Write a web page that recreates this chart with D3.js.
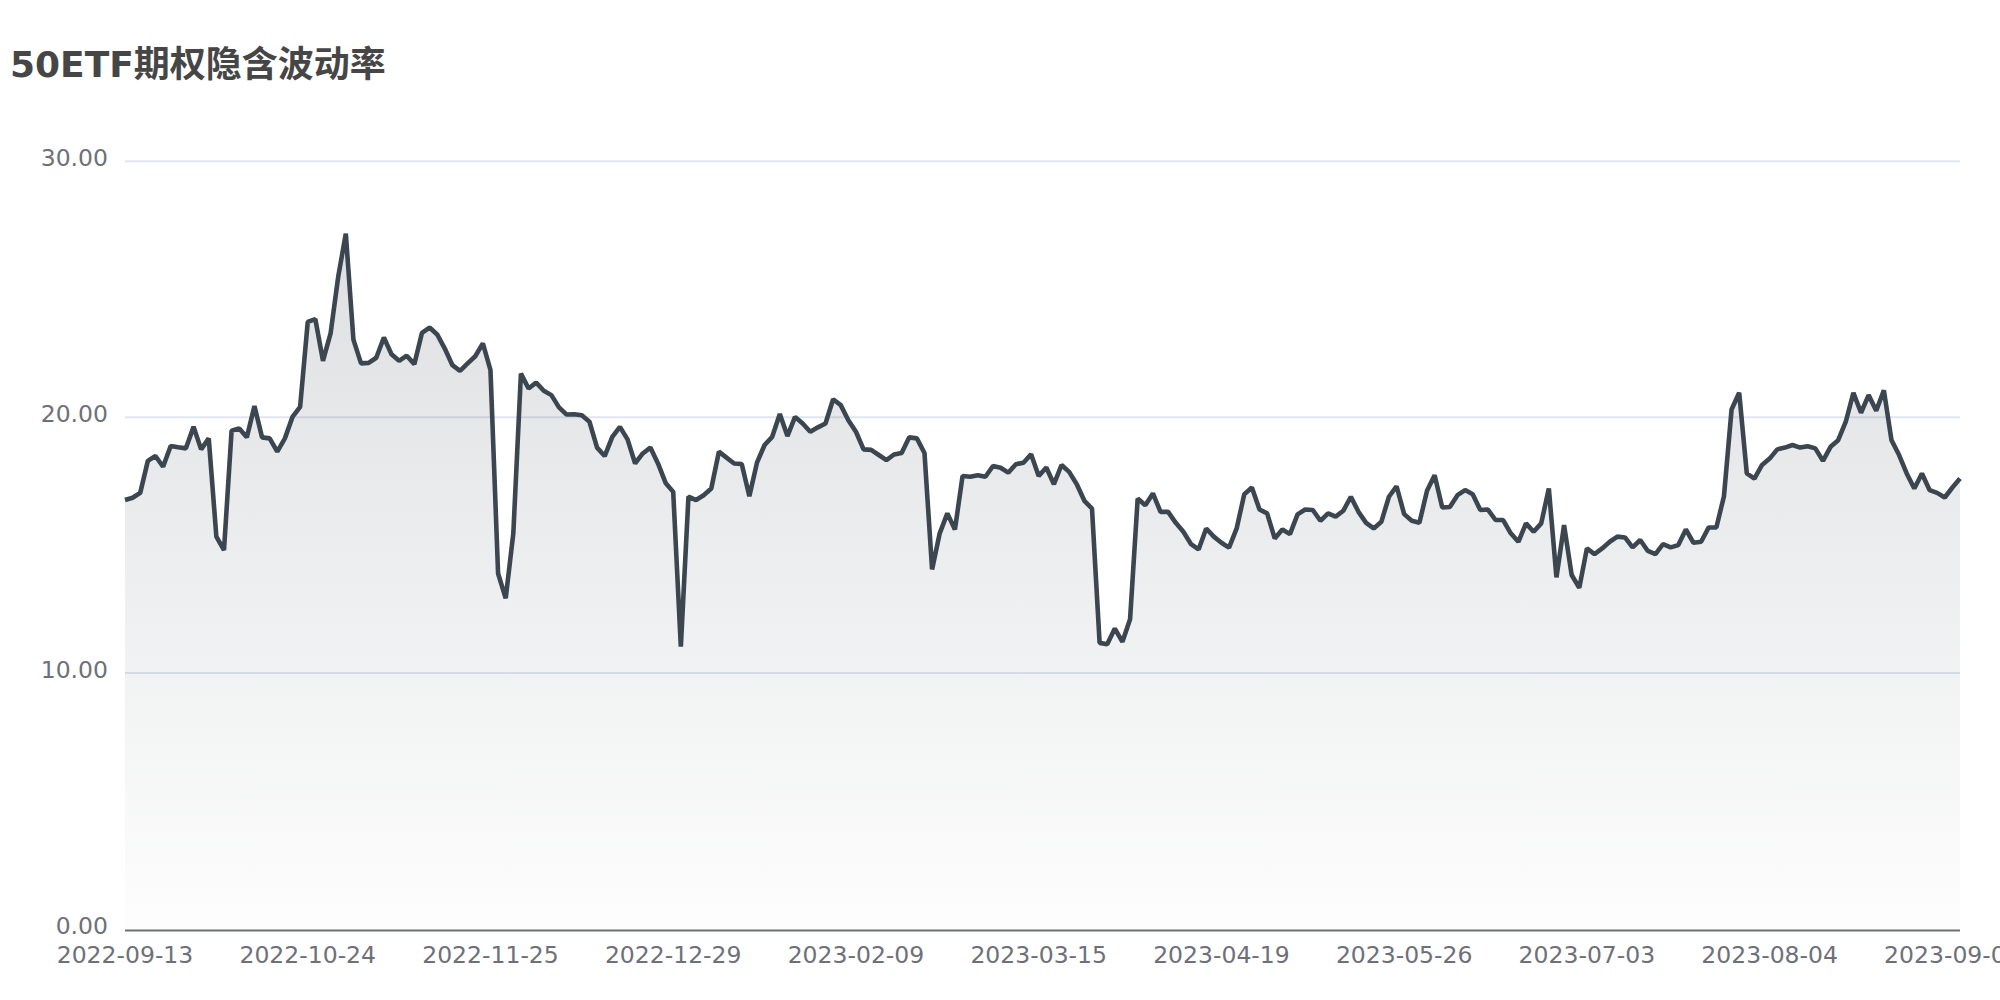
<!DOCTYPE html>
<html>
<head>
<meta charset="utf-8">
<script src="https://cdn.jsdelivr.net/npm/d3@7"></script>
<style>
  html, body { margin: 0; padding: 0; background: #fff; }
  svg { display: block; }
</style>
</head>
<body>
<svg id="chart" width="2000" height="1000"></svg>
<script>
// ---- data ----
const title = "50ETF期权隐含波动率";
const startDate = "2022-09-13";
const holidays = ["2022-10-03","2022-10-04","2022-10-05","2022-10-06","2022-10-07",
  "2023-01-02","2023-01-23","2023-01-24","2023-01-25","2023-01-26","2023-01-27",
  "2023-04-05","2023-05-01","2023-05-02","2023-05-03","2023-06-22","2023-06-23"];
const values = [
  16.76,16.85,17.04,18.29,18.48,18.06,18.87,18.82,18.78,19.62,
  18.74,19.17,15.33,14.80,19.47,19.56,19.21,20.43,19.21,19.17,
  18.65,19.17,20.01,20.40,23.72,23.83,22.20,23.27,25.48,27.17,
  23.03,22.10,22.12,22.32,23.11,22.46,22.20,22.40,22.07,23.29,
  23.50,23.23,22.68,22.03,21.81,22.10,22.38,22.88,21.84,13.89,
  12.92,15.46,21.70,21.12,21.35,21.03,20.86,20.38,20.10,20.11,
  20.07,19.82,18.81,18.48,19.23,19.62,19.13,18.19,18.58,18.81,
  18.19,17.43,17.08,11.03,16.89,16.76,16.95,17.21,18.65,18.42,
  18.19,18.17,16.91,18.22,18.91,19.23,20.12,19.26,20.01,19.75,
  19.43,19.60,19.75,20.70,20.47,19.88,19.43,18.74,18.72,18.52,
  18.32,18.54,18.60,19.21,19.17,18.60,14.05,15.46,16.24,15.61,
  17.70,17.67,17.73,17.67,18.09,18.02,17.83,18.16,18.22,18.55,
  17.70,18.03,17.38,18.13,17.86,17.38,16.73,16.43,11.18,11.13,
  11.74,11.22,12.10,16.82,16.56,17.02,16.30,16.30,15.87,15.52,
  15.04,14.83,15.65,15.33,15.09,14.90,15.65,16.99,17.25,16.39,
  16.24,15.26,15.61,15.43,16.20,16.39,16.37,15.95,16.24,16.11,
  16.34,16.89,16.30,15.87,15.65,15.91,16.89,17.30,16.21,15.95,
  15.87,17.12,17.73,16.47,16.49,16.95,17.15,16.99,16.37,16.39,
  15.98,15.98,15.46,15.13,15.85,15.52,15.85,17.21,13.74,15.78,
  13.83,13.33,14.87,14.65,14.87,15.13,15.33,15.30,14.91,15.20,
  14.77,14.65,15.04,14.91,15.00,15.61,15.09,15.13,15.69,15.69,
  16.91,20.30,20.95,17.80,17.60,18.13,18.38,18.74,18.81,18.91,
  18.81,18.86,18.78,18.29,18.84,19.10,19.82,20.95,20.17,20.86,
  20.25,21.05,19.10,18.52,17.80,17.21,17.80,17.15,17.04,16.86,
  17.25,17.60
];
const yTicks = [0, 10, 20, 30];
const xLabelEvery = 24;

// trading-day categories (weekdays minus exchange holidays)
const fmt = d3.utcFormat("%Y-%m-%d");
const dates = [];
{
  let d = new Date(startDate + "T00:00:00Z");
  const hol = new Set(holidays);
  while (dates.length < values.length) {
    const wd = d.getUTCDay();
    const s = fmt(d);
    if (wd !== 0 && wd !== 6 && !hol.has(s)) dates.push(s);
    d = new Date(d.getTime() + 86400000);
  }
}
const data = dates.map((d, i) => ({ date: d, value: values[i] }));

// ---- layout ----
const svg = d3.select("#chart");
const plotLeft = 125, plotRight = 1960, plotTop = 161.2, plotBottom = 929;
const fontLatin = "'DejaVu Sans', 'Noto Sans CJK SC', sans-serif";

const x = d3.scalePoint().domain(dates).range([plotLeft, plotRight]).padding(0);
const y = d3.scaleLinear().domain([0, 30]).range([plotBottom, plotTop]);

// title
svg.append("text")
  .attr("x", 10).attr("y", 77)
  .attr("font-family", fontLatin)
  .attr("font-size", 36).attr("font-weight", "bold")
  .attr("fill", "#464646")
  .text(title);

// grid lines
svg.append("g").selectAll("line")
  .data(yTicks.filter(t => t !== 0))
  .join("line")
  .attr("x1", plotLeft).attr("x2", plotRight)
  .attr("y1", d => y(d)).attr("y2", d => y(d))
  .attr("stroke", "#e0e6f1").attr("stroke-width", 2);

// y labels
svg.append("g").selectAll("text")
  .data(yTicks)
  .join("text")
  .attr("x", 108).attr("y", d => y(d) + 5)
  .attr("text-anchor", "end")
  .attr("font-family", fontLatin).attr("font-size", 23.5)
  .attr("fill", "#6e7079")
  .text(d => d3.format(".2f")(d));

// area gradient
const defs = svg.append("defs");
const maxV = d3.max(values);
const grad = defs.append("linearGradient")
  .attr("id", "areaGrad")
  .attr("gradientUnits", "userSpaceOnUse")
  .attr("x1", 0).attr("x2", 0)
  .attr("y1", y(maxV)).attr("y2", y(0));
grad.append("stop").attr("offset", 0).attr("stop-color", "rgb(60,70,80)").attr("stop-opacity", 0.17);
grad.append("stop").attr("offset", 1).attr("stop-color", "rgb(60,70,80)").attr("stop-opacity", 0.01);

const area = d3.area()
  .x(d => x(d.date))
  .y0(y(0))
  .y1(d => y(d.value));
svg.append("path").datum(data)
  .attr("d", area)
  .attr("fill", "url(#areaGrad)");

// x axis line
svg.append("line")
  .attr("x1", plotLeft).attr("x2", plotRight)
  .attr("y1", y(0) + 1.5).attr("y2", y(0) + 1.5)
  .attr("stroke", "#6e7079").attr("stroke-width", 2);

// line
const line = d3.line()
  .x(d => x(d.date))
  .y(d => y(d.value));
svg.append("path").datum(data)
  .attr("d", line)
  .attr("fill", "none")
  .attr("stroke", "#3c4650")
  .attr("stroke-width", 4.6)
  .attr("stroke-linejoin", "bevel");

// x labels
const labelDates = dates.filter((d, i) => i % xLabelEvery === 0);
svg.append("g").selectAll("text")
  .data(labelDates)
  .join("text")
  .attr("x", d => x(d)).attr("y", 963)
  .attr("text-anchor", "middle")
  .attr("font-family", fontLatin).attr("font-size", 23.5)
  .attr("fill", "#6e7079")
  .text(d => d);
</script>
</body>
</html>
